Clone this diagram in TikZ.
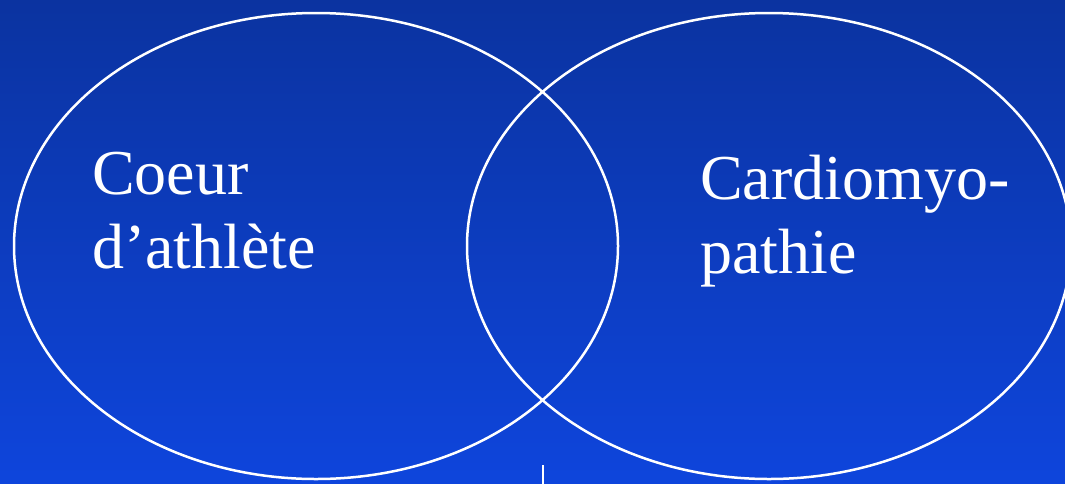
\documentclass[tikz,border=0pt]{standalone}
\usepackage{fontspec}
\setmainfont{Liberation Serif}
\usetikzlibrary{shapes.geometric}
\definecolor{bgtop}{RGB}{11,51,160}
\definecolor{bgbottom}{RGB}{14,69,220}
\tikzset{
  circlearea/.style={ellipse,draw=white,line width=2.5pt,inner sep=0pt,
    minimum width=604pt,minimum height=466pt},
  arealabel/.style={text=white,align=left,anchor=base west,inner sep=0pt,
    font=\fontsize{64}{74}\selectfont}
}
\begin{document}
\begin{tikzpicture}[x=1pt,y=-1pt]
\useasboundingbox (0,0) rectangle (1065,483);
\shade[top color=bgtop,bottom color=bgbottom] (0,0) rectangle (1065,483);
\node[circlearea] (athlete) at (316,246) {};
\node[circlearea] (cardio) at (769,246) {};
\node[arealabel] (coeur) at (92,268) {Coeur\\d’athlète};
\node[arealabel] (cmp) at (700,273) {Cardiomyo-\\pathie};
\coordinate (tick) at (543,465);
\draw[white,line width=2.5pt] (tick) -- ++(0,20);
\end{tikzpicture}
\end{document}
